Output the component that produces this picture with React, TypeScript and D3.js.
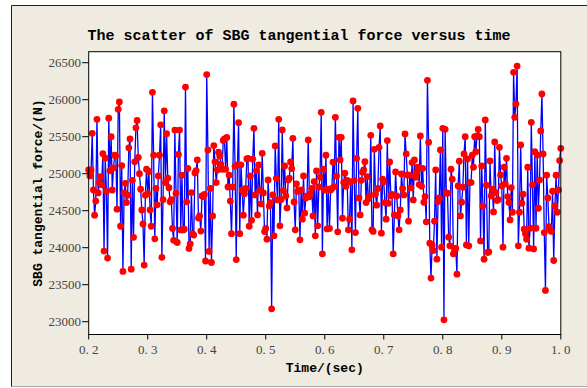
import React from "react";
import * as d3 from "d3";

const titleText = "The scatter of SBG tangential force versus time";
const xLabel = "Time/(sec)";
const yLabel = "SBG tangential force/(N)";
const xTicks = [0.2, 0.3, 0.4, 0.5, 0.6, 0.7, 0.8, 0.9, 1.0];
const yTicks = [23000, 23500, 24000, 24500, 25000, 25500, 26000, 26500];
const timeStart = 0.2;
const timeStep = 0.002;

const forceA = [
  25050, 24970, 25050, 25546, 24780, 24440, 24630, 25735, 24740, 24880,
  24960, 24850, 25270, 23955, 25210, 24760, 23860, 25750, 25040, 25500,
  24780, 25080, 25250, 25240, 24520, 25870, 25970, 24290, 25110, 23680,
  24740, 24870, 24610, 24710, 25350, 25470, 23710, 24910, 24140, 25160,
  25620, 25720, 25220, 25000, 24790, 24510, 24320, 23765, 24710, 25060,
  24730, 25030, 24510, 24290, 26100, 25250, 24120, 24800, 24580, 24970,
  25250, 25660, 23870, 24650, 25850, 24880, 25540,
];
const forceB = [
  24940, 24810, 24620, 24650, 24260, 24100, 25590, 24735, 24070, 25260,
  25590, 24240, 24980, 24240, 24250, 26170, 24620, 25070, 23990, 24050,
  24745, 24190, 24170, 25010, 25040, 25185, 24400, 24430, 24225, 24700,
  24690, 24720, 23820, 26340, 25320, 23950, 24800, 23800, 24430, 25380,
  25160, 24880, 25050, 25290, 25240, 25130, 25060, 25450, 25470, 25060,
  25490, 24820, 24980, 24630, 24190, 24820, 25940, 25100, 23840, 25120,
  25690, 24190, 25120, 24780, 24440, 24730, 24800, 25200,
];
const forceC = [
  25208, 24290, 24970, 24370, 25195, 25613, 24713, 25042, 24443, 25118,
  24780, 24592, 25276, 24740, 24218, 24260, 24115, 24916, 24565, 24610,
  23174, 24713, 24160, 25375, 24938, 24646, 25735, 24295, 24650, 25591,
  24772, 25105, 24700, 24538, 24916, 24940, 25159, 25069, 25478, 24619,
  24241, 24862, 24760, 24770, 24106, 24780, 24385, 24970, 24466, 24673,
  24700, 25456, 24690, 24730, 24803, 24430, 24893, 24160, 25037, 24295,
  24820, 24952, 25830, 23917, 25060, 24780, 25249, 24254,
];
const forceD = [
  24790, 24260, 24780, 24800, 25155, 24826, 25762, 24970, 24214, 25492,
  25186, 25492, 24398, 24880, 25006, 24830, 24910, 24241, 24385, 24890,
  23971, 25983, 24910, 24205, 25208, 25883, 24673, 24443, 24910, 25019,
  25050, 25163, 24610, 24961, 24660, 24700, 25519, 24241, 24220, 25330,
  24727, 24574, 24800, 25357, 25645, 24196, 24925, 24890, 24610, 24385,
  25447, 24600, 25159, 24700, 24720, 23917, 24443, 25024, 24700, 24430,
  24241, 24511, 24997, 24800, 24713, 25537, 25267, 24983,
];
const forceE = [
  24358, 24979, 24808, 25150, 24646, 25186, 24952, 25015, 25087, 24853,
  25510, 24830, 25073, 24614, 24691, 24349, 26262, 25425, 24061, 23589,
  24038, 23962, 24358, 25051, 23845, 24623, 24673, 25321, 24007, 25613,
  23026, 25600, 24740, 24736, 24142, 24025, 25060, 24925, 23917, 23980,
  23990, 23642, 24835, 25168, 24430, 24614, 24817, 25267, 25501, 24038,
  25200, 24025, 24880, 24880, 25249, 25087, 25501, 25298, 25510, 25600,
  25500, 24092, 25105, 24565, 23845, 25726, 24844, 23935,
];
const forceF = [
  23944, 25172, 24700, 24790, 24484, 25429, 24745, 24637, 24650, 25357,
  24983, 24835, 24007, 25087, 24862, 25208, 24691, 24610, 24376, 24812,
  24479, 26370, 25762, 25942, 26455, 24025, 24479, 25388, 24601, 24722,
  24250, 24187, 24115, 25087, 23993, 24263, 25694, 24848, 23984, 25298,
  24263, 25253, 24533, 24916, 25577, 26077, 25267, 24205, 23422, 24979,
  24673, 24286, 24241, 24220, 24763, 23827, 24565, 24979, 24479, 24781,
  25177, 25343,
];

const forces = [...forceA, ...forceB, ...forceC, ...forceD, ...forceE, ...forceF];
const points = forces.map((f, i) => ({ t: timeStart + timeStep * i, f }));

const W = 587;
const H = 388;
const left = 88.7;
const right = 560.8;
const top = 51.7;
const bottom = 334.5;

export default function App() {
  const x = d3.scaleLinear().domain([0.2, 1.0]).range([left, right]);
  const y = d3.scaleLinear().domain([23000, 26500]).range([321.7, 62.7]);
  const line = d3
    .line<{ t: number; f: number }>()
    .x((d) => x(d.t))
    .y((d) => y(d.f));

  const tickFont = "'Liberation Serif', serif";
  const monoFont = "'Liberation Mono', 'DejaVu Sans Mono', monospace";
  const fmtX = (v: number) => v.toFixed(1).replace(".", ". ");

  return (
    <svg
      width={W}
      height={H}
      style={{ position: "absolute", left: 0, top: 0, display: "block" }}
    >
      <rect x={0} y={0} width={W} height={H} fill="#ffffff" />
      <rect x={11.5} y={5.5} width={W} height={381} fill="#efebe1" />
      <line x1={11.5} y1={5.5} x2={W} y2={5.5} stroke="#222" strokeWidth={1} />
      <line x1={11.5} y1={5.5} x2={11.5} y2={387} stroke="#222" strokeWidth={1} />
      <line x1={11.5} y1={386.5} x2={W} y2={386.5} stroke="#aaa" strokeWidth={1} />

      <rect x={left} y={top} width={right - left} height={bottom - top} fill="#ffffff" />

      <text
        x={299}
        y={40}
        textAnchor="middle"
        fontFamily={monoFont}
        fontWeight="bold"
        fontSize={15}
        fill="#000"
      >
        {titleText}
      </text>

      <path d={line(points) || ""} fill="none" stroke="#0000ff" strokeWidth={1.3} />
      {points.map((d, i) => (
        <circle key={i} cx={x(d.t)} cy={y(d.f)} r={3.4} fill="#ff0000" />
      ))}

      <rect
        x={left}
        y={top}
        width={right - left}
        height={bottom - top}
        fill="none"
        stroke="#000"
        strokeWidth={1}
      />

      {yTicks.map((v) => (
        <g key={v}>
          <line x1={left - 6.5} x2={left} y1={y(v)} y2={y(v)} stroke="#000" strokeWidth={1} />
          <text
            x={81}
            y={y(v)}
            dy="0.36em"
            textAnchor="end"
            fontFamily={tickFont}
            fontSize={13}
            fill="#444"
          >
            {v}
          </text>
        </g>
      ))}

      {xTicks.map((v) => (
        <g key={v}>
          <line x1={x(v)} x2={x(v)} y1={bottom} y2={bottom + 5} stroke="#000" strokeWidth={1} />
          <text
            x={x(v)}
            y={354}
            textAnchor="middle"
            fontFamily={tickFont}
            fontSize={13}
            fill="#444"
          >
            {fmtX(v)}
          </text>
        </g>
      ))}

      <text
        x={(left + right) / 2}
        y={372}
        textAnchor="middle"
        fontFamily={monoFont}
        fontWeight="bold"
        fontSize={13}
        fill="#000"
      >
        {xLabel}
      </text>
      <text
        transform={`translate(42, ${(top + bottom) / 2}) rotate(-90)`}
        textAnchor="middle"
        fontFamily={monoFont}
        fontWeight="bold"
        fontSize={13}
        fill="#000"
      >
        {yLabel}
      </text>
    </svg>
  );
}
